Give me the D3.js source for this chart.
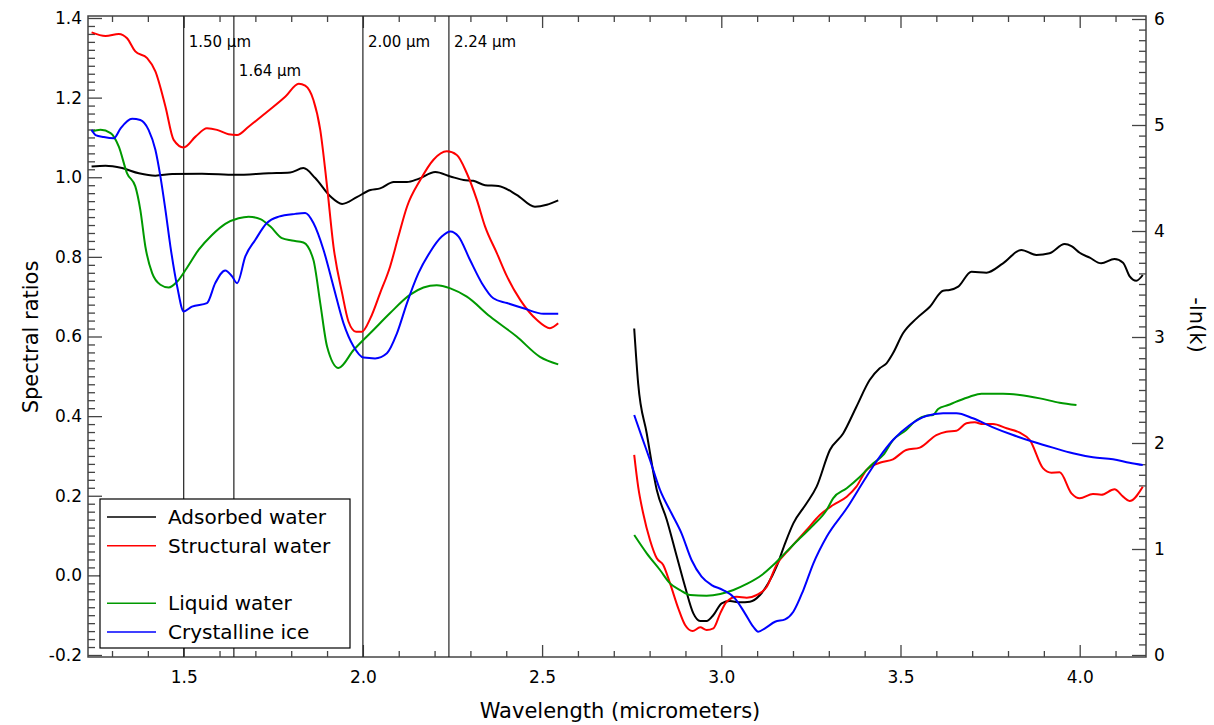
<!DOCTYPE html>
<html>
<head>
<meta charset="utf-8">
<script src="https://cdn.jsdelivr.net/npm/d3@7"></script>
<style>
  body { margin: 0; background: #fff; }
  svg text { font-family: "DejaVu Sans", sans-serif; fill: #000; }
</style>
</head>
<body>
<div id="chart"></div>
<script>
// spectral ratios, 1.2 - 2.55 um  [wavelength, ratio]
const adsorbedRatio = [[1.243,1.027],[1.282,1.029],[1.328,1.023],[1.375,1.010],[1.421,1.004],[1.468,1.008],[1.551,1.009],[1.644,1.006],[1.737,1.010],[1.797,1.012],[1.834,1.023],[1.867,0.998],[1.909,0.952],[1.942,0.933],[1.983,0.950],[2.021,0.968],[2.048,0.972],[2.086,0.988],[2.123,0.988],[2.155,0.996],[2.202,1.013],[2.244,1.002],[2.281,0.993],[2.308,0.991],[2.341,0.980],[2.378,0.978],[2.429,0.956],[2.480,0.926],[2.513,0.931],[2.545,0.942]];
const structuralRatio = [[1.243,1.364],[1.282,1.355],[1.319,1.360],[1.342,1.349],[1.365,1.316],[1.398,1.299],[1.421,1.266],[1.449,1.178],[1.472,1.094],[1.500,1.075],[1.533,1.102],[1.565,1.123],[1.593,1.119],[1.625,1.108],[1.649,1.106],[1.681,1.127],[1.728,1.161],[1.784,1.203],[1.821,1.235],[1.839,1.230],[1.862,1.194],[1.881,1.119],[1.900,0.977],[1.918,0.826],[1.942,0.709],[1.960,0.637],[1.981,0.612],[1.997,0.612],[2.021,0.646],[2.048,0.709],[2.076,0.776],[2.099,0.851],[2.123,0.926],[2.160,0.993],[2.197,1.044],[2.234,1.065],[2.262,1.056],[2.290,1.010],[2.318,0.943],[2.341,0.876],[2.374,0.809],[2.402,0.751],[2.439,0.692],[2.485,0.642],[2.522,0.621],[2.545,0.633]];
const liquidRatio = [[1.243,1.115],[1.268,1.119],[1.296,1.111],[1.319,1.077],[1.342,1.010],[1.365,0.977],[1.379,0.918],[1.393,0.826],[1.412,0.759],[1.435,0.730],[1.458,0.723],[1.482,0.738],[1.505,0.767],[1.542,0.818],[1.579,0.855],[1.616,0.883],[1.653,0.897],[1.681,0.901],[1.714,0.895],[1.742,0.876],[1.774,0.847],[1.802,0.841],[1.834,0.836],[1.862,0.792],[1.881,0.684],[1.900,0.575],[1.932,0.521],[1.974,0.566],[2.030,0.617],[2.076,0.659],[2.132,0.705],[2.169,0.723],[2.206,0.729],[2.244,0.721],[2.290,0.700],[2.355,0.650],[2.429,0.600],[2.494,0.549],[2.545,0.530]];
const iceRatio = [[1.243,1.119],[1.254,1.106],[1.277,1.101],[1.305,1.098],[1.324,1.123],[1.356,1.147],[1.379,1.144],[1.402,1.119],[1.421,1.069],[1.435,1.002],[1.449,0.918],[1.463,0.826],[1.482,0.725],[1.500,0.663],[1.523,0.675],[1.565,0.684],[1.588,0.734],[1.616,0.766],[1.635,0.751],[1.649,0.734],[1.672,0.801],[1.700,0.843],[1.732,0.885],[1.765,0.901],[1.811,0.908],[1.839,0.910],[1.862,0.885],[1.890,0.818],[1.918,0.725],[1.946,0.633],[1.974,0.575],[2.002,0.547],[2.034,0.545],[2.067,0.558],[2.095,0.608],[2.123,0.684],[2.155,0.759],[2.188,0.813],[2.220,0.851],[2.244,0.864],[2.267,0.851],[2.299,0.792],[2.332,0.734],[2.364,0.696],[2.402,0.684],[2.448,0.671],[2.504,0.657],[2.545,0.657]];

// -ln(k), 2.75 - 4.2 um  [wavelength, -ln(k)]
const adsorbedK = [[2.757,3.08],[2.768,2.563],[2.792,2.090],[2.820,1.557],[2.848,1.274],[2.876,0.927],[2.899,0.644],[2.922,0.393],[2.941,0.321],[2.959,0.321],[2.978,0.377],[3.001,0.487],[3.024,0.509],[3.052,0.497],[3.080,0.503],[3.108,0.566],[3.131,0.676],[3.154,0.833],[3.178,1.054],[3.201,1.242],[3.238,1.431],[3.266,1.588],[3.303,1.934],[3.340,2.090],[3.377,2.342],[3.414,2.594],[3.442,2.705],[3.461,2.752],[3.479,2.846],[3.507,3.035],[3.545,3.176],[3.582,3.286],[3.619,3.437],[3.637,3.443],[3.661,3.475],[3.698,3.616],[3.740,3.607],[3.786,3.695],[3.837,3.821],[3.879,3.774],[3.916,3.790],[3.958,3.877],[3.977,3.858],[4.000,3.795],[4.028,3.748],[4.060,3.695],[4.097,3.736],[4.121,3.701],[4.139,3.575],[4.158,3.531],[4.176,3.585]];
const structuralK = [[2.757,1.887],[2.768,1.588],[2.782,1.337],[2.801,1.085],[2.820,0.912],[2.838,0.849],[2.857,0.676],[2.880,0.440],[2.899,0.283],[2.920,0.226],[2.941,0.261],[2.959,0.236],[2.978,0.252],[2.997,0.393],[3.015,0.503],[3.043,0.550],[3.071,0.541],[3.099,0.566],[3.127,0.644],[3.154,0.849],[3.192,1.006],[3.238,1.179],[3.275,1.321],[3.312,1.415],[3.350,1.494],[3.377,1.588],[3.405,1.745],[3.442,1.814],[3.479,1.846],[3.516,1.934],[3.554,1.956],[3.600,2.075],[3.628,2.107],[3.656,2.116],[3.684,2.186],[3.707,2.195],[3.730,2.179],[3.758,2.179],[3.796,2.139],[3.833,2.097],[3.861,2.028],[3.898,1.761],[3.921,1.720],[3.944,1.723],[3.977,1.525],[4.000,1.478],[4.037,1.519],[4.060,1.512],[4.097,1.563],[4.121,1.494],[4.139,1.453],[4.176,1.588]];
const liquidK = [[2.757,1.132],[2.792,0.959],[2.829,0.802],[2.857,0.676],[2.885,0.613],[2.913,0.566],[2.959,0.560],[2.997,0.575],[3.034,0.613],[3.071,0.670],[3.113,0.755],[3.145,0.849],[3.182,0.975],[3.219,1.101],[3.257,1.226],[3.294,1.368],[3.312,1.478],[3.350,1.573],[3.387,1.682],[3.424,1.808],[3.452,1.887],[3.479,2.028],[3.516,2.123],[3.545,2.217],[3.572,2.258],[3.591,2.264],[3.605,2.321],[3.633,2.358],[3.656,2.390],[3.693,2.437],[3.726,2.465],[3.786,2.465],[3.833,2.453],[3.889,2.421],[3.944,2.380],[3.991,2.358]];
const iceK = [[2.757,2.264],[2.778,2.060],[2.801,1.840],[2.829,1.557],[2.861,1.337],[2.889,1.148],[2.917,0.896],[2.945,0.739],[2.973,0.660],[3.005,0.613],[3.038,0.535],[3.066,0.393],[3.089,0.267],[3.103,0.220],[3.122,0.252],[3.150,0.314],[3.178,0.336],[3.201,0.408],[3.229,0.613],[3.257,0.865],[3.294,1.116],[3.350,1.384],[3.405,1.682],[3.442,1.870],[3.479,2.028],[3.526,2.170],[3.572,2.255],[3.619,2.280],[3.656,2.280],[3.702,2.233],[3.758,2.148],[3.814,2.075],[3.870,2.012],[3.925,1.956],[3.981,1.903],[4.037,1.865],[4.093,1.846],[4.139,1.814],[4.176,1.792]];

const bandLines = [1.50, 1.64, 2.00, 2.24];
const bandLabels = ["1.50 µm", "1.64 µm", "2.00 µm", "2.24 µm"];
const xTicks = [1.5, 2.0, 2.5, 3.0, 3.5, 4.0];
const yLeftTicks = [-0.2, 0.0, 0.2, 0.4, 0.6, 0.8, 1.0, 1.2, 1.4];
const yRightTicks = [0, 1, 2, 3, 4, 5, 6];
const legendNames = ["Adsorbed water", "Structural water", "", "Liquid water", "Crystalline ice"];
const legendColors = ["#000000", "#ff0000", null, "#009900", "#0000ff"];

const width = 1214, height = 725;
const L = 88, R = 1146, T = 16, B = 657;

const svg = d3.select("#chart").append("svg")
  .attr("width", width).attr("height", height);

const x = d3.scaleLinear().domain([1.233, 4.185]).range([L, R]);
const yL = d3.scaleLinear().domain([-0.2, 1.4]).range([655, 18]);
const yR = d3.scaleLinear().domain([0, 6]).range([655, 19]);

const axisColor = "#444";

function styleAxis(g) {
  g.select(".domain").remove();
  g.selectAll(".tick line").attr("stroke", axisColor).attr("stroke-width", 1.3);
  g.selectAll(".tick text").style("font-size", "17px").attr("fill", "#000");
}
const fmt1 = d => d.toFixed(1);

// x axes (bottom with labels, top ticks only)
const xMinor = d3.range(1.3, 4.19, 0.1).filter(v => Math.abs(v * 2 - Math.round(v * 2)) > 0.01);
svg.append("g").attr("transform", `translate(0,${B})`)
  .call(d3.axisBottom(x).tickValues(xMinor).tickSize(-6).tickFormat(""))
  .call(styleAxis);
svg.append("g").attr("transform", `translate(0,${B})`)
  .call(d3.axisBottom(x).tickValues(xTicks).tickSize(-12).tickPadding(14).tickFormat(fmt1))
  .call(styleAxis);
svg.append("g").attr("transform", `translate(0,${T})`)
  .call(d3.axisTop(x).tickValues(xMinor).tickSize(-6).tickFormat(""))
  .call(styleAxis);
svg.append("g").attr("transform", `translate(0,${T})`)
  .call(d3.axisTop(x).tickValues(xTicks).tickSize(-12).tickFormat(""))
  .call(styleAxis);

// left axis
const yMinor = d3.range(-0.2, 1.41, 0.02).filter(v => Math.abs(v * 5 - Math.round(v * 5)) > 0.01);
svg.append("g").attr("transform", `translate(${L},0)`)
  .call(d3.axisLeft(yL).tickValues(yMinor).tickSize(-7).tickFormat(""))
  .call(styleAxis);
svg.append("g").attr("transform", `translate(${L},0)`)
  .call(d3.axisLeft(yL).tickValues(yLeftTicks).tickSize(-14).tickPadding(6).tickFormat(fmt1))
  .call(styleAxis);

// right axis
const rMinor = d3.range(0, 6.01, 0.1).filter(v => Math.abs(v - Math.round(v)) > 0.01);
svg.append("g").attr("transform", `translate(${R},0)`)
  .call(d3.axisRight(yR).tickValues(rMinor).tickSize(-7).tickFormat(""))
  .call(styleAxis);
svg.append("g").attr("transform", `translate(${R},0)`)
  .call(d3.axisRight(yR).tickValues(yRightTicks).tickSize(-14).tickPadding(8).tickFormat(d3.format("d")))
  .call(styleAxis);

// frame
svg.append("rect")
  .attr("x", L).attr("y", T).attr("width", R - L).attr("height", B - T)
  .attr("fill", "none").attr("stroke", axisColor).attr("stroke-width", 1.5);

// band lines
svg.append("g").selectAll("line").data(bandLines).enter().append("line")
  .attr("x1", d => x(d)).attr("x2", d => x(d))
  .attr("y1", T).attr("y2", B)
  .attr("stroke", "#222").attr("stroke-width", 1.2);
svg.append("g").selectAll("text").data(bandLines).enter().append("text")
  .attr("x", d => x(d) + 5)
  .attr("y", (d, i) => i === 1 ? 76 : 47)
  .style("font-size", "15px")
  .text((d, i) => bandLabels[i]);

// curves
const lineL = d3.line().x(d => x(d[0])).y(d => yL(d[1])).curve(d3.curveMonotoneX);
const lineR = d3.line().x(d => x(d[0])).y(d => yR(d[1])).curve(d3.curveMonotoneX);
const curves = [
  [adsorbedRatio, "#000000", lineL], [structuralRatio, "#ff0000", lineL],
  [liquidRatio, "#009900", lineL], [iceRatio, "#0000ff", lineL],
  [adsorbedK, "#000000", lineR], [structuralK, "#ff0000", lineR],
  [liquidK, "#009900", lineR], [iceK, "#0000ff", lineR]
];
svg.append("g").selectAll("path").data(curves).enter().append("path")
  .attr("d", d => d[2](d[0]))
  .attr("fill", "none")
  .attr("stroke", d => d[1])
  .attr("stroke-width", 2);

// legend
const lg = svg.append("g");
lg.append("rect").attr("x", 100).attr("y", 499).attr("width", 250).attr("height", 149)
  .attr("fill", "#fff").attr("stroke", "#000").attr("stroke-width", 1.2);
const legendY = d3.scalePoint().domain(d3.range(legendNames.length)).range([517, 632]);
legendNames.forEach((name, i) => {
  if (!name) return;
  lg.append("line").attr("x1", 107).attr("x2", 156)
    .attr("y1", legendY(i)).attr("y2", legendY(i))
    .attr("stroke", legendColors[i]).attr("stroke-width", 1.6);
  lg.append("text").attr("x", 168).attr("y", legendY(i) + 7)
    .style("font-size", "20px").text(name);
});

// axis titles
svg.append("text").attr("x", (L + R) / 2 + 3).attr("y", 718)
  .attr("text-anchor", "middle").style("font-size", "21px")
  .text("Wavelength (micrometers)");
svg.append("text").attr("transform", "translate(38,337) rotate(-90)")
  .attr("text-anchor", "middle").style("font-size", "21px")
  .text("Spectral ratios");
svg.append("text").attr("transform", "translate(1190,325) rotate(90)")
  .attr("text-anchor", "middle").style("font-size", "21px")
  .text("-ln(k)");
</script>
</body>
</html>
